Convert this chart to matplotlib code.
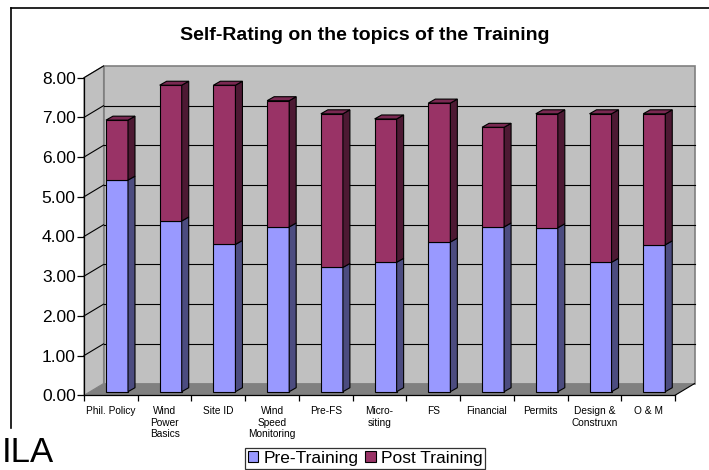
import numpy as np
import matplotlib
matplotlib.use('Agg')
import matplotlib.pyplot as plt
from matplotlib.patches import Polygon, Patch
from matplotlib.lines import Line2D

plt.rcParams['font.family'] = ['Liberation Sans', 'DejaVu Sans']

topics = ['Phil. Policy', 'Wind\nPower\nBasics', 'Site ID', 'Wind\nSpeed\nMonitoring',
          'Pre-FS', 'Micro-\nsiting', 'FS', 'Financial', 'Permits',
          'Design &\nConstruxn', 'O & M']
pre_training = [5.33, 4.30, 3.71, 4.15, 3.13, 3.26, 3.77, 4.15, 4.13, 3.26, 3.70]
total_after = [6.84, 7.72, 7.72, 7.33, 7.00, 6.87, 7.27, 6.66, 7.00, 7.00, 7.00]
post_training = [t - p for t, p in zip(total_after, pre_training)]

pre_cols = ('#9999ff', '#4c4c80', '#7a7acc')     # front, side, top
post_cols = ('#993366', '#4d1933', '#7a2952')

fig = plt.figure(figsize=(7.09, 4.70), dpi=100)
ax = fig.add_axes([84/709, 1 - 395.3/470, 591/709, 317.6/470])
ax.set_xlim(-0.5, 10.5)
ax.set_ylim(0, 8)
ax.patch.set_visible(False)

# depth of the 3d box, and where the bars sit inside it
dx, dy = 0.363, 0.295
ox, oy = 0.114, 0.091
sx, sy = 0.13, 0.10
w = 0.41
x0, x1, ytop = -0.5, 10.5, 8

# walls and floor
ax.add_patch(Polygon([(x0 + dx, dy), (x1 + dx, dy), (x1 + dx, ytop + dy), (x0 + dx, ytop + dy)],
                     fc='#c0c0c0', ec='#808080', lw=1.2, clip_on=False, zorder=0))
ax.add_patch(Polygon([(x0, 0), (x0 + dx, dy), (x0 + dx, ytop + dy), (x0, ytop)],
                     fc='#c0c0c0', ec='#808080', lw=0.8, clip_on=False, zorder=0))
ax.add_patch(Polygon([(x0, 0), (x1, 0), (x1 + dx, dy), (x0 + dx, dy)],
                     fc='#808080', ec='none', clip_on=False, zorder=0.5))
ax.plot([x1, x1 + dx], [0, dy], color='black', lw=0.8, clip_on=False, zorder=0.6)

for v in range(1, 9):
    if v < 8:
        ax.plot([x0 + dx, x1 + dx], [v + dy, v + dy], color='black', lw=0.8,
                clip_on=False, zorder=1)
    ax.plot([x0, x0 + dx], [v, v + dy], color='black', lw=0.8, clip_on=False, zorder=1)

# bars
xs = np.arange(len(topics)) + ox
ax.bar(xs, pre_training, width=w, bottom=oy, color=pre_cols[0], edgecolor='black',
       lw=0.8, zorder=3, clip_on=False)
ax.bar(xs, post_training, width=w, bottom=np.array(pre_training) + oy, color=post_cols[0],
       edgecolor='black', lw=0.8, zorder=3, clip_on=False)

for x, p, t in zip(xs, pre_training, total_after):
    xl, xr = x - w/2, x + w/2
    for y0, y1, cols in [(oy, p + oy, pre_cols), (p + oy, t + oy, post_cols)]:
        ax.add_patch(Polygon([(xr, y0), (xr + sx, y0 + sy), (xr + sx, y1 + sy), (xr, y1)],
                             fc=cols[1], ec='black', lw=0.8, clip_on=False, zorder=3))
    ax.add_patch(Polygon([(xl, t + oy), (xr, t + oy), (xr + sx, t + oy + sy), (xl + sx, t + oy + sy)],
                         fc=post_cols[2], ec='black', lw=0.8, clip_on=False, zorder=3))

# axes
for s in ['top', 'right']:
    ax.spines[s].set_visible(False)
for s in ['left', 'bottom']:
    ax.spines[s].set_color('black')
    ax.spines[s].set_linewidth(0.9)
    ax.spines[s].set_zorder(2)

ax.set_yticks(range(0, 9))
ax.set_yticklabels(['%.2f' % v for v in range(0, 9)], fontsize=12.5)
ax.tick_params(axis='y', length=5, width=0.9, pad=1)
ax.set_xticks(np.arange(len(topics)))
ax.set_xticklabels(topics, fontsize=7.3, linespacing=1.15, va='top')
ax.set_xticks(np.arange(-0.5, 11, 1), minor=True)
ax.tick_params(axis='x', which='major', length=0, pad=8)
ax.tick_params(axis='x', which='minor', length=4, width=0.9)

fig.text(364.5/709, 1 - 35/470, 'Self-Rating on the topics of the Training',
         fontsize=14, fontweight='bold', ha='center', va='center')

# chart border
fig.add_artist(Line2D([11/709, 1], [1 - 8/470, 1 - 8/470], color='black', lw=1.2))
fig.add_artist(Line2D([11/709, 11/709], [1 - 8/470, 1 - 428/470], color='black', lw=1.2))

handles = [Patch(fc=pre_cols[0], ec='black', lw=0.8, label='Pre-Training'),
           Patch(fc=post_cols[0], ec='black', lw=0.8, label='Post Training')]
leg = fig.legend(handles=handles, loc='center', bbox_to_anchor=(365/709, 1 - 458.5/470),
                 ncol=2, fontsize=12.5, frameon=True, fancybox=False, handlelength=0.6,
                 handleheight=0.6, handletextpad=0.3, columnspacing=0.4, borderpad=0.15,
                 borderaxespad=0)
leg.get_frame().set_edgecolor('black')
leg.get_frame().set_linewidth(0.9)

fig.text(2/709, 1/470, 'ILA', fontsize=25, ha='left', va='bottom')

fig.savefig('out.png', dpi=100)
